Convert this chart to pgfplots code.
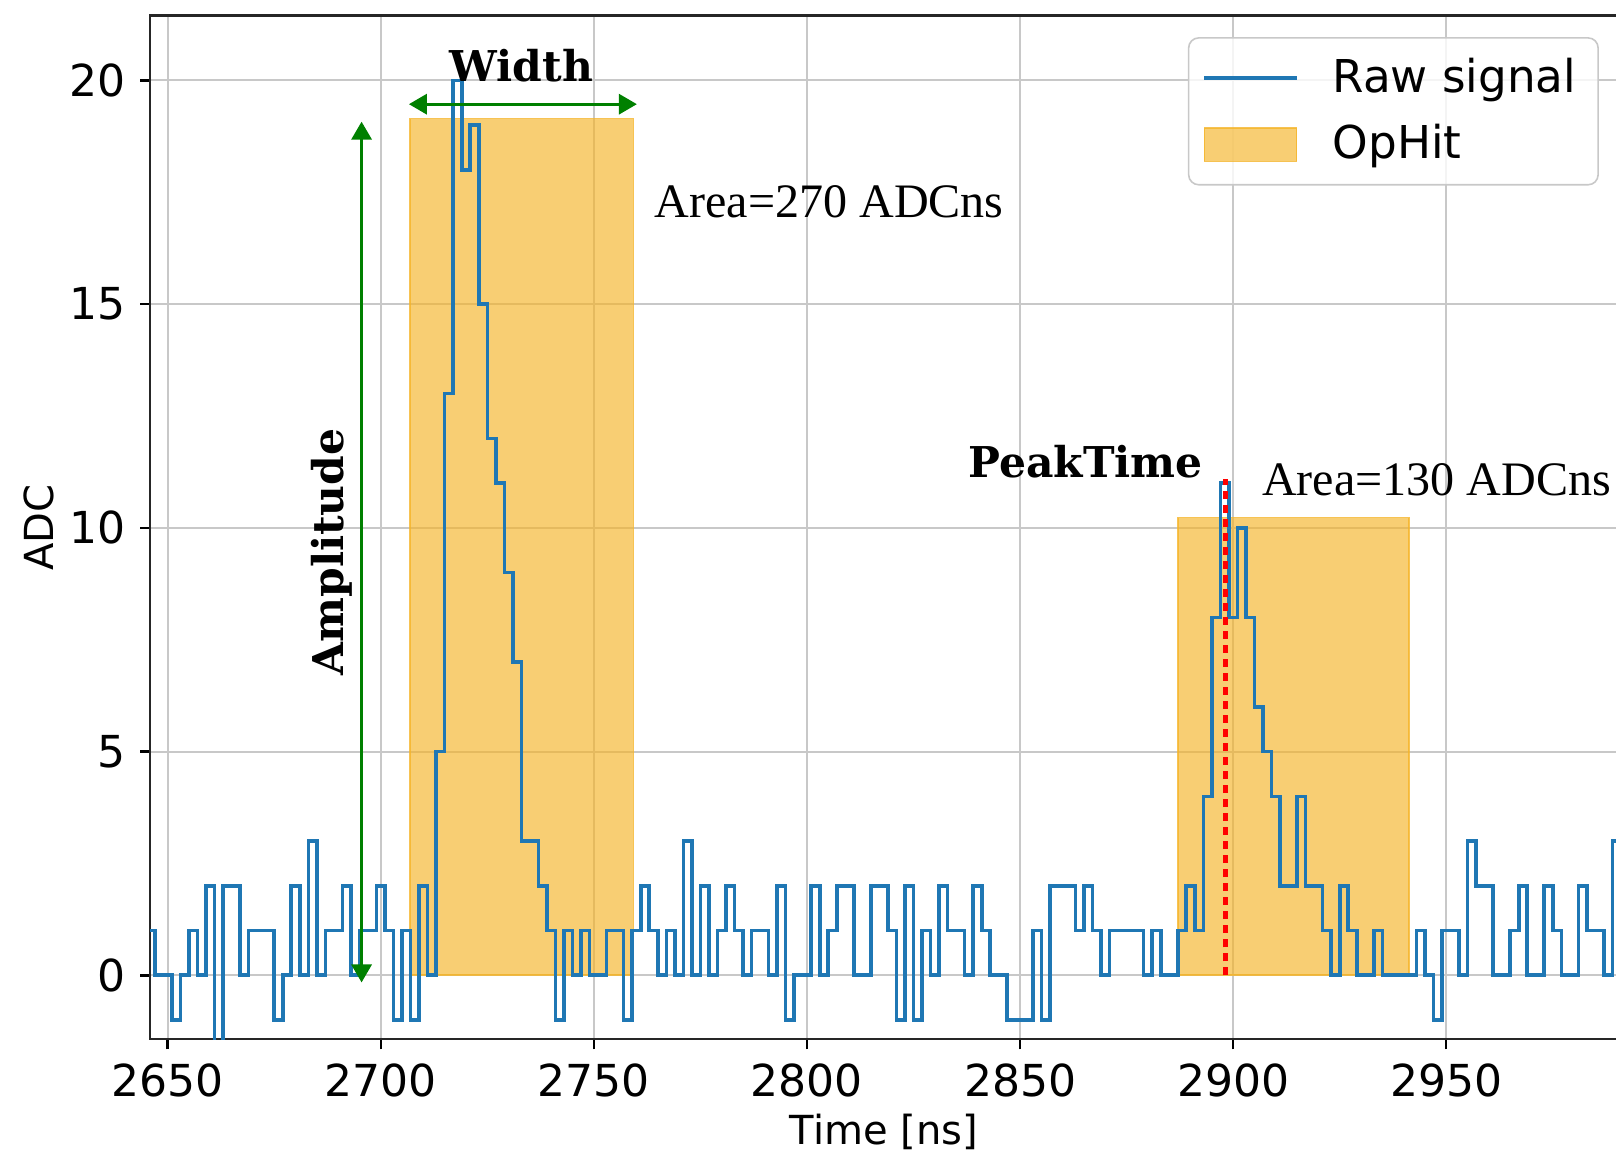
\documentclass[border=0pt]{standalone}
\usepackage{pgfplots}
\usepackage{pgfplotstable}
\pgfplotsset{compat=1.18}
\usepackage{fontspec}
\setmainfont{DejaVu Sans}
\newfontfamily\annofont{Liberation Serif}
\newfontfamily\boldanno{DejaVu Serif}
\usetikzlibrary{arrows.meta}

\definecolor{mplblue}{HTML}{1F77B4}
\definecolor{mplgreen}{HTML}{008000}
\definecolor{hitfill}{HTML}{F5B428}
\definecolor{gridgray}{HTML}{C8C8C8}

% raw waveform, 2 ns samples, value held from t to t+2
\pgfplotstableread{
t adc
2645 1
2647 0
2649 0
2651 -1
2653 0
2655 1
2657 0
2659 2
2661 -2
2663 2
2665 2
2667 0
2669 1
2671 1
2673 1
2675 -1
2677 0
2679 2
2681 0
2683 3
2685 0
2687 1
2689 1
2691 2
2693 0
2695 1
2697 1
2699 2
2701 1
2703 -1
2705 1
2707 -1
2709 2
2711 0
2713 5
2715 13
2717 20
2719 18
2721 19
2723 15
2725 12
2727 11
2729 9
2731 7
2733 3
2735 3
2737 2
2739 1
2741 -1
2743 1
2745 0
2747 1
2749 0
2751 0
2753 1
2755 1
2757 -1
2759 1
2761 2
2763 1
2765 0
2767 1
2769 0
2771 3
2773 0
2775 2
2777 0
2779 1
2781 2
2783 1
2785 0
2787 1
2789 1
2791 0
2793 2
2795 -1
2797 0
2799 0
2801 2
2803 0
2805 1
2807 2
2809 2
2811 0
2813 0
2815 2
2817 2
2819 1
2821 -1
2823 2
2825 -1
2827 1
2829 0
2831 2
2833 1
2835 1
2837 0
2839 2
2841 1
2843 0
2845 0
2847 -1
2849 -1
2851 -1
2853 1
2855 -1
2857 2
2859 2
2861 2
2863 1
2865 2
2867 1
2869 0
2871 1
2873 1
2875 1
2877 1
2879 0
2881 1
2883 0
2885 0
2887 1
2889 2
2891 1
2893 4
2895 8
2897 11
2899 8
2901 10
2903 8
2905 6
2907 5
2909 4
2911 2
2913 2
2915 4
2917 2
2919 2
2921 1
2923 0
2925 2
2927 1
2929 0
2931 0
2933 1
2935 0
2937 0
2939 0
2941 0
2943 1
2945 0
2947 -1
2949 1
2951 1
2953 0
2955 3
2957 2
2959 2
2961 0
2963 0
2965 1
2967 2
2969 0
2971 0
2973 2
2975 1
2977 0
2979 0
2981 2
2983 1
2985 1
2987 0
2989 3
2991 -1
2993 -1
}\rawsignal

\pgfplotsset{
  hitlegend/.style={legend image code/.code={
    \draw[##1, sharp corners] (0pt,-4.2pt) rectangle (23pt,4.2pt);
    \path[draw=none, fill=none] (0pt,0pt) -- (30pt,0pt);}},
  linelegend/.style={legend image code/.code={
    \draw[##1, sharp corners] (0pt,0pt) -- (23pt,0pt);
    \path[draw=none, fill=none] (0pt,0pt) -- (30pt,0pt);}},
}

\begin{document}
\begin{tikzpicture}
\begin{axis}[
  scale only axis,
  width=366.5pt, height=255.6pt,
  xmin=2645.9, xmax=2990.3,
  ymin=-1.43, ymax=21.45,
  xtick={2650,2700,...,2950},
  ytick={0,5,10,15,20},
  /pgf/number format/1000 sep={},
  /pgf/number format/assume math mode=true,
  grid=major,
  grid style={gridgray, line width=0.5pt},
  tick align=outside,
  major tick length=2.5pt,
  tick style={black, line width=0.6pt},
  xtick pos=left, ytick pos=left,
  axis line style={line width=0.6pt, black!85},
  ticklabel style={font=\fontsize{11}{13}\selectfont},
  xlabel={Time [ns]}, ylabel={ADC},
  label style={font=\fontsize{11}{13}\selectfont},
  every axis x label/.style={at={(rel axis cs:0.5,0)}, anchor=center, yshift=-23.2pt},
  every axis y label/.style={at={(rel axis cs:0,0.5)}, anchor=center, rotate=90, yshift=27.8pt},
  legend style={at={(rel axis cs:0.987,0.979)}, anchor=north east,
    draw=gridgray, rounded corners=2.5pt, fill=white, fill opacity=0.8,
    text opacity=1, font=\fontsize{11.3}{13}\selectfont,
    inner xsep=3.5pt, inner ysep=3pt, row sep=2.5pt},
  legend cell align=left,
  reverse legend,
]
\addplot[hitlegend, fill=hitfill, fill opacity=0.65, draw=hitfill,
  draw opacity=0.8, line width=0.4pt]
  coordinates {(2706.8,0) (2706.8,19.15) (2759.3,19.15) (2759.3,0)} -- cycle;
\addlegendentry{OpHit}
\addplot[forget plot, fill=hitfill, fill opacity=0.65, draw=hitfill,
  draw opacity=0.8, line width=0.4pt]
  coordinates {(2887.0,0) (2887.0,10.23) (2941.2,10.23) (2941.2,0)} -- cycle;
\addplot[linelegend, const plot, mplblue, line width=0.9pt]
  table[x=t, y=adc] {\rawsignal};
\addlegendentry{Raw signal}

% annotations
\draw[mplgreen, line width=0.8pt,
  {Triangle[length=4.5pt,width=5pt]}-{Triangle[length=4.5pt,width=5pt]}]
  (axis cs:2695.5,-0.16) -- (axis cs:2695.5,19.08);
\draw[mplgreen, line width=0.8pt,
  {Triangle[length=4.5pt,width=5pt]}-{Triangle[length=4.5pt,width=5pt]}]
  (axis cs:2706.6,19.47) -- (axis cs:2760.1,19.47);
\draw[red, line width=1.1pt, dash pattern=on 2pt off 1.5pt]
  (axis cs:2898.2,0) -- (axis cs:2898.2,11.1);
\node[font=\boldanno\bfseries\fontsize{10.6}{12}\selectfont]
  at (axis cs:2733,20.32) {Width};
\node[rotate=90, font=\boldanno\bfseries\fontsize{10.6}{12}\selectfont]
  at (axis cs:2688.6,9.46) {Amplitude};
\node[font=\boldanno\bfseries\fontsize{10.6}{12}\selectfont]
  at (axis cs:2865.4,11.47) {PeakTime};
\node[anchor=west, inner sep=0pt, font=\annofont\fontsize{12}{14}\selectfont]
  at (axis cs:2764.1,17.28) {Area=270 ADCns};
\node[anchor=west, inner sep=0pt, font=\annofont\fontsize{12}{14}\selectfont]
  at (axis cs:2906.6,11.07) {Area=130 ADCns};

\coordinate (bl) at (rel axis cs:0,0);
\coordinate (tr) at (rel axis cs:1,1);
\end{axis}
\pgfresetboundingbox
\path[use as bounding box] ([xshift=-37.5pt,yshift=-28.3pt]bl)
  rectangle ([xshift=-0.5pt,yshift=3.9pt]tr);
\end{tikzpicture}
\end{document}
